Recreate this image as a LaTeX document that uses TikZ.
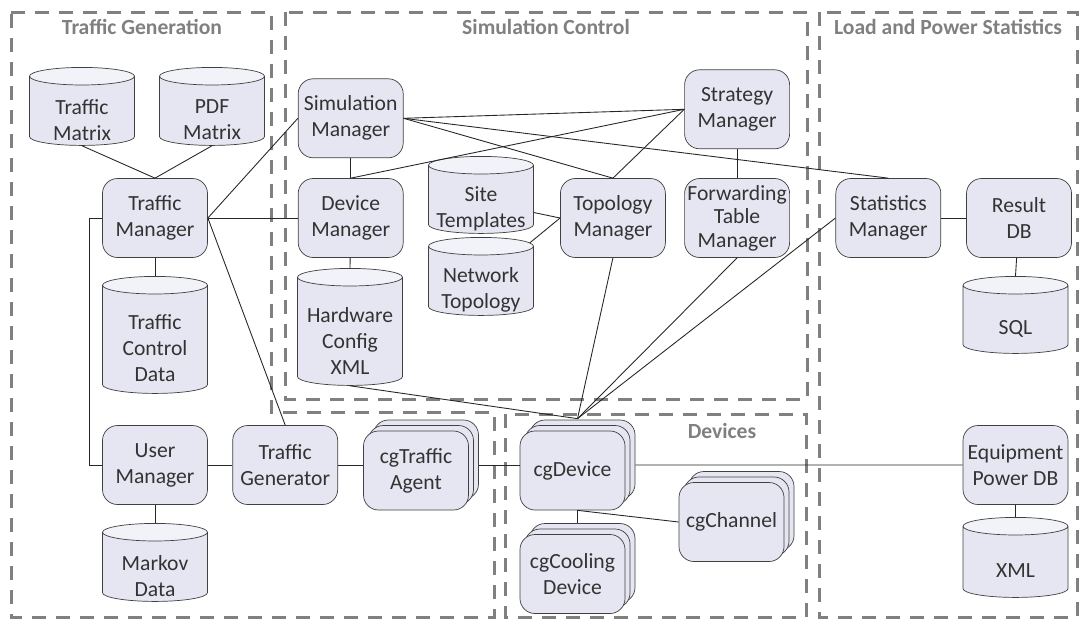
\documentclass[tikz,border=0pt]{standalone}
\usepackage{fontspec}
\setmainfont{Carlito}
\usetikzlibrary{positioning,shapes.geometric,shadows}

\definecolor{boxfill}{RGB}{230,230,242}
\definecolor{capfill}{RGB}{242,242,249}
\definecolor{boxline}{RGB}{64,64,64}
\definecolor{grpline}{RGB}{128,128,128}

\begin{document}
\begin{tikzpicture}[
    x=0.2mm,y=-0.2mm,
    font=\fontsize{12.3}{14.8}\selectfont,
    box/.style={
      draw=boxline,fill=boxfill,rounded corners=3mm,align=center,
      text=black!80,inner sep=0.5mm,
      minimum width=21mm,minimum height=15.8mm},
    stack/.style={box,
      double copy shadow={shadow xshift=1mm,shadow yshift=1.1mm,draw=boxline,fill=boxfill}},
    db/.style={
      cylinder,shape border rotate=90,aspect=1.5,draw=boxline,
      cylinder uses custom fill,cylinder body fill=boxfill,cylinder end fill=capfill,
      minimum width=21mm,minimum height=#1},
    dbtxt/.style={align=center,text=black!80,yshift=-1.4mm},
    grp/.style={draw=grpline,line width=0.6mm,dash pattern=on 2.8mm off 2mm},
    grptitle/.style={text=grpline,font=\fontsize{12.3}{14.8}\selectfont\bfseries},
    link/.style={draw=black!85,line width=0.5pt}
]
\useasboundingbox (0,0) rectangle (1082,621);

% groups
\draw[grp] (11,12) -- (271,12) -- (271,412) -- (494,412) -- (494,617) -- (11,617) -- cycle;
\draw[grp] (285,12) rectangle (807,399);
\draw[grp] (505,414) rectangle (806,617);
\draw[grp] (819,12) rectangle (1077,617);

\node[grptitle] (gtraf) at (142,27) {Traffic Generation};
\node[grptitle] (gsim)  at (546,27) {Simulation Control};
\node[grptitle] (gload) at (948,27) {Load and Power Statistics};
\node[grptitle] (gdev)  at (722,431) {Devices};

% traffic generation
\node[db=15.6mm,label={[dbtxt]center:Traffic\\Matrix}] (tmx) at (82,113) {};
\node[db=15.6mm,label={[dbtxt]center:PDF\\Matrix}]     (pdf) at (212,113) {};
\node[box] (trm) at (155,218) {Traffic\\Manager};
\node[db=23.4mm,label={[dbtxt]center:Traffic\\Control\\Data}] (tcd) at (155,341.5) {};
\node[box] (usr) at (155,465) {User\\Manager};
\node[db=15.6mm,label={[dbtxt]center:Markov\\Data}] (mkv) at (155,569) {};
\node[box,right=4.9mm of usr] (tgn) {Traffic\\Generator};
\node[stack] (agt) at (416,470.5) {cgTraffic\\Agent};

% simulation control
\node[box,right=18mm of trm]  (dvm) {Device\\Manager};
\node[box,above=4mm of dvm]   (sim) {Simulation\\Manager};
\node[db=23.4mm,label={[dbtxt]center:Hardware\\Config\\XML}] (hcx) at (350,333.5) {};
\node[db=15.4mm,label={[dbtxt]center:Site\\Templates}]     (stl) at (481,201.5) {};
\node[db=15.6mm,label={[dbtxt]center:Network\\Topology}]   (ntp) at (481,283) {};
\node[box,right=31.3mm of dvm] (tpm) {Topology\\Manager};
\node[box,right=3.7mm of tpm,font=\fontsize{12.3}{13.4}\selectfont] (fwd) {Forwarding\\Table\\Manager};
\node[box,above=5.8mm of fwd] (str) {Strategy\\Manager};

% load and power statistics
\node[box,right=9.1mm of fwd] (sta) {Statistics\\Manager};
\node[box,right=5mm of sta]   (res) {Result\\DB};
\node[db=15.4mm,label={[dbtxt]center:SQL}] (sql) at (1015.5,321.5) {};
\node[box] (eqp) at (1015.5,465) {Equipment\\Power DB};
\node[db=16mm,label={[dbtxt]center:XML}] (xml) at (1015.5,564) {};

% devices
\node[stack] (dev) at (572.5,470.5) {cgDevice};
\node[stack] (chn) at (731.5,522)   {cgChannel};
\node[stack] (col) at (572.5,574)   {cgCooling\\Device};
\coordinate (devtop) at ([shift={(1mm,2.4mm)}]dev.north);

% links
\draw[link] (tmx.bottom) -- (trm.north);
\draw[link] (pdf.bottom) -- (trm.north);
\draw[link] (trm.east) -- (sim.west);
\draw[link] (trm.east) -- (dvm.west);
\draw[link] (trm.east) -- (tgn.north);
\draw[link] (trm.west) -- ++(-2.6mm,0) |- (usr.west);
\draw[link] (trm) -- (tcd.top);
\draw[link] (usr) -- (mkv.top);
\draw[link] (usr) -- (tgn);
\draw[link] (tgn.east) -- (tgn.east -| agt.west);
\draw[link] ([shift={(2mm,1.1mm)}]agt.east) -- ([yshift=1.1mm]dev.west);
\draw[link] ([shift={(2mm,1.1mm)}]dev.east) -- (eqp.west);
\draw[link] (eqp) -- (xml.top);
\draw[link] ([xshift=1mm]dev.south) -- ([shift={(1mm,2.2mm)}]col.north);
\draw[link] ([xshift=1mm]dev.south) -- (chn.west);

\draw[link] (sim) -- (dvm);
\draw[link] (sim.east) -- (str.west);
\draw[link] (sim.east) -- (tpm.north);
\draw[link] (sim.east) -- (sta.north);
\draw[link] (dvm.north) -- (str.west);
\draw[link] (tpm.north) -- (str.west);
\draw[link] (str) -- (fwd);
\draw[link] (stl) -- (tpm.west);
\draw[link] (ntp) -- (tpm.west);
\draw[link] (dvm) -- (hcx.top);

\draw[link] (hcx.bottom) -- (devtop);
\draw[link] (tpm.south) -- (devtop);
\draw[link] (fwd.south) -- (devtop);
\draw[link] (sta.west) -- (devtop);

\draw[link] (sta) -- (res);
\draw[link] (res) -- (sql.top);
\end{tikzpicture}
\end{document}
